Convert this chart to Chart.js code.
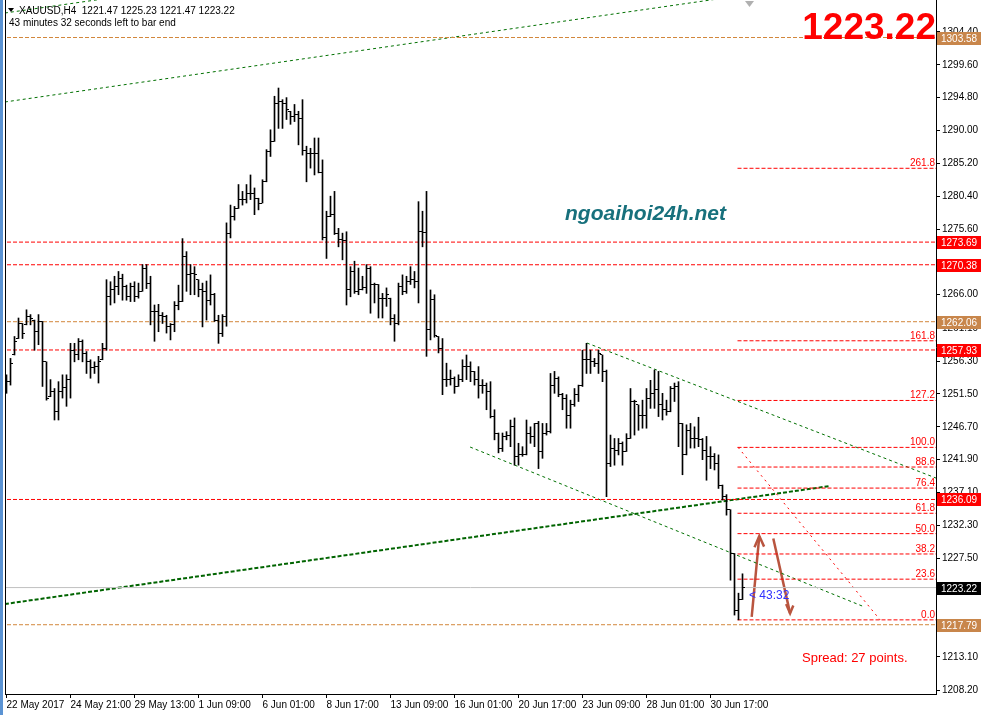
<!DOCTYPE html>
<html>
<head>
<meta charset="utf-8">
<script src="https://cdn.jsdelivr.net/npm/chart.js@4.4.0/dist/chart.umd.min.js"></script>
<style>
  html, body { margin: 0; padding: 0; background: #fff; }
  #wrap { position: relative; width: 984px; height: 715px; overflow: hidden; }
  #wrap canvas { position: absolute; left: 0; top: 0; }
  #edge { position: absolute; left: 0; top: 0; width: 3px; height: 715px; background: #5b93d3; }
</style>
</head>
<body>
<div id="wrap"><canvas id="c" width="984" height="715"></canvas><div id="edge"></div></div>
<script>
// XAUUSD H4 bars, 22 May 2017 -> 3 Jul 2017
var opens = [
  1252.0,1253.3,1257.2,1259.6,1261.8,1261.6,1262.8,1262.3,1260.6,1262.1,1256.2,1251.1,1251.9,1248.9,1251.9,1252.4,
  1253.6,1257.9,1257.2,1259.2,1257.4,1256.2,1255.3,1255.5,1256.5,1258.2,1265.7,1266.7,1267.2,1268.4,1267.2,1265.7,
  1267.2,1265.7,1266.5,1269.9,1267.7,1263.5,1263.5,1263.0,1262.8,1261.3,1261.6,1264.5,1265.0,1271.6,1268.9,1269.1,
  1268.2,1266.7,1266.5,1265.2,1266.0,1262.3,1260.4,1262.8,1275.0,1277.4,1278.6,1279.9,1279.9,1280.8,1280.8,1280.1,
  1279.4,1282.6,1286.9,1288.4,1294.0,1294.2,1294.0,1292.8,1292.0,1292.3,1291.8,1287.0,1286.7,1286.7,1286.7,1283.8,
  1274.3,1277.4,1277.7,1275.0,1274.0,1273.9,1266.7,1269.4,1266.5,1266.7,1267.1,1269.9,1267.5,1267.5,1265.5,1265.5,
  1265.5,1262.6,1261.8,1267.2,1266.5,1267.9,1268.2,1267.9,1275.2,1275.1,1260.9,1265.3,1259.9,1258.2,1253.6,1253.6,
  1253.8,1252.6,1253.6,1255.5,1255.5,1254.8,1253.6,1252.8,1252.7,1251.9,1248.2,1245.8,1243.6,1245.3,1245.5,1246.7,
  1242.4,1242.6,1242.6,1245.8,1245.3,1247.2,1243.1,1245.8,1246.0,1252.8,1253.8,1251.4,1250.9,1248.4,1249.9,1251.4,
  1252.8,1256.5,1256.5,1256.2,1256.0,1257.2,1254.8,1241.4,1243.6,1243.3,1244.3,1243.1,1245.0,1250.4,1249.9,1248.4,
  1248.4,1250.9,1251.6,1252.1,1249.9,1249.2,1248.9,1252.3,1252.6,1247.2,1242.6,1246.2,1245.0,1245.0,1244.8,1243.3,
  1242.3,1242.3,1241.4,1238.2,1236.5,1234.6,1228.2,1219.9,1221.47
];
var highs = [
  1254.3,1256.7,1259.9,1262.6,1261.8,1263.8,1263.1,1262.3,1263.1,1262.1,1256.2,1253.6,1252.3,1253.3,1254.3,1254.3,
  1258.9,1258.9,1259.6,1259.4,1257.7,1256.5,1256.2,1257.0,1258.9,1268.2,1267.9,1268.7,1269.4,1269.0,1267.4,1267.7,
  1267.9,1267.7,1270.4,1270.4,1268.7,1264.5,1264.6,1263.4,1263.0,1261.8,1265.0,1267.4,1274.2,1272.3,1270.4,1270.1,
  1268.2,1267.7,1268.0,1268.9,1266.2,1263.0,1263.1,1276.5,1279.1,1278.9,1282.1,1281.1,1282.1,1283.5,1281.6,1280.1,
  1282.8,1287.2,1290.1,1295.0,1296.2,1294.5,1294.8,1292.8,1293.8,1292.8,1294.5,1287.7,1287.4,1288.9,1288.9,1285.7,
  1278.2,1280.4,1281.1,1275.7,1275.0,1275.2,1270.1,1270.9,1269.9,1268.7,1270.4,1270.1,1267.7,1267.5,1266.2,1267.0,
  1265.5,1263.1,1267.7,1268.9,1268.7,1270.1,1269.4,1279.6,1278.2,1281.1,1266.7,1266.0,1259.9,1259.6,1256.0,1255.0,
  1254.0,1254.3,1256.5,1257.2,1256.2,1254.8,1255.5,1253.6,1253.1,1253.3,1249.2,1245.8,1245.8,1246.0,1247.7,1248.0,
  1244.3,1243.8,1247.7,1246.7,1247.2,1247.5,1247.2,1247.2,1254.5,1254.8,1254.0,1251.6,1251.4,1250.6,1252.3,1252.8,
  1257.9,1258.9,1257.9,1256.7,1257.9,1257.2,1255.0,1245.5,1245.0,1245.0,1244.5,1245.7,1252.3,1250.6,1249.9,1250.6,
  1252.3,1253.5,1255.0,1254.8,1251.6,1250.6,1252.6,1253.1,1253.3,1247.2,1247.0,1247.2,1246.7,1248.1,1245.0,1245.3,
  1243.8,1242.8,1242.6,1238.2,1236.8,1234.6,1228.2,1222.4,1225.23
];
var lows = [
  1251.6,1252.8,1257.2,1259.6,1259.6,1261.6,1261.6,1257.9,1258.7,1252.6,1250.6,1251.1,1247.7,1247.7,1250.9,1249.7,
  1250.9,1256.2,1256.5,1256.2,1254.5,1253.8,1254.5,1253.1,1256.5,1257.9,1264.5,1264.8,1266.0,1265.2,1265.2,1265.0,
  1265.0,1265.5,1266.5,1266.9,1261.6,1259.2,1260.6,1261.8,1260.4,1259.4,1260.6,1263.8,1265.0,1266.5,1266.0,1266.0,
  1265.7,1261.3,1262.3,1264.5,1262.1,1258.9,1259.9,1261.4,1274.3,1276.9,1278.6,1279.1,1279.4,1279.9,1277.7,1278.4,
  1279.4,1282.5,1286.2,1288.4,1290.3,1290.3,1291.6,1290.9,1291.3,1287.9,1286.4,1282.5,1284.5,1283.5,1283.8,1274.0,
  1271.3,1277.4,1274.8,1273.0,1271.1,1264.5,1265.7,1266.2,1266.0,1266.7,1266.2,1263.3,1264.8,1262.6,1262.6,1264.3,
  1261.6,1259.2,1261.6,1266.0,1266.2,1267.5,1267.0,1264.8,1273.0,1257.0,1259.4,1259.8,1257.5,1251.4,1252.6,1252.8,
  1251.6,1252.6,1253.3,1253.6,1253.3,1252.8,1250.9,1251.6,1249.2,1248.0,1244.8,1242.9,1243.1,1244.8,1243.8,1241.1,
  1241.1,1242.4,1242.6,1244.3,1243.8,1240.6,1242.1,1245.5,1245.8,1251.6,1251.1,1249.2,1246.5,1246.5,1249.7,1250.4,
  1252.6,1254.5,1254.5,1255.5,1254.5,1253.3,1236.5,1240.9,1241.1,1242.6,1241.1,1243.1,1245.0,1245.5,1246.2,1246.5,
  1246.5,1249.4,1249.4,1248.2,1247.7,1248.4,1248.9,1250.4,1243.8,1239.7,1242.6,1243.6,1243.6,1243.8,1241.9,1238.9,
  1240.6,1240.4,1237.7,1236.0,1233.8,1224.3,1219.2,1218.5,1221.47
];
var closes = [
  1253.3,1256.0,1259.2,1261.8,1260.4,1262.8,1262.6,1260.6,1262.1,1256.2,1250.9,1251.9,1248.9,1251.9,1252.4,1253.6,
  1257.9,1257.2,1259.2,1257.4,1256.2,1255.3,1255.5,1256.2,1258.2,1265.7,1266.7,1267.2,1268.4,1267.2,1265.7,1267.2,
  1265.7,1266.5,1269.9,1267.7,1263.5,1263.5,1263.0,1262.8,1261.3,1261.6,1264.5,1265.0,1271.6,1268.9,1269.1,1268.9,
  1266.7,1266.5,1265.2,1266.0,1262.3,1260.4,1262.8,1275.0,1277.4,1278.6,1279.9,1279.9,1280.8,1280.8,1280.1,1279.4,
  1282.6,1286.9,1288.4,1294.0,1294.2,1294.0,1293.0,1292.0,1292.3,1291.8,1287.0,1286.7,1286.7,1286.7,1283.8,1274.3,
  1277.4,1277.7,1275.0,1274.0,1273.9,1266.7,1269.4,1266.5,1266.7,1267.1,1269.9,1267.5,1267.5,1265.5,1265.5,1266.0,
  1262.6,1261.8,1267.2,1266.5,1267.9,1268.2,1267.9,1275.2,1275.1,1260.9,1265.3,1260.0,1258.2,1253.6,1253.6,1253.8,
  1252.6,1253.6,1255.5,1255.5,1254.8,1253.6,1252.8,1252.7,1251.9,1248.2,1245.8,1243.6,1245.3,1245.5,1246.7,1242.4,
  1242.6,1242.6,1245.8,1245.3,1247.2,1243.1,1245.8,1246.0,1252.8,1253.8,1251.4,1250.9,1248.4,1249.9,1251.4,1252.8,
  1256.5,1256.5,1256.2,1256.0,1257.4,1254.8,1241.4,1243.6,1243.3,1244.3,1243.1,1245.0,1250.4,1250.4,1248.4,1248.4,
  1250.9,1251.6,1252.1,1249.9,1249.2,1248.9,1252.3,1252.6,1247.2,1242.6,1246.2,1245.0,1245.0,1244.8,1243.3,1242.3,
  1242.3,1241.4,1238.2,1236.5,1234.6,1228.2,1219.9,1221.47,1223.22
];

// time axis: one label every 16 bars
var timeLabels = ['22 May 2017', '24 May 21:00', '29 May 13:00', '1 Jun 09:00', '6 Jun 01:00', '8 Jun 17:00',
                  '13 Jun 09:00', '16 Jun 01:00', '20 Jun 17:00', '23 Jun 09:00', '28 Jun 01:00', '30 Jun 17:00'];
var labelStep = 16;

// price axis tick labels
var yTicks = [1304.40, 1299.60, 1294.80, 1290.00, 1285.20, 1280.40, 1275.60, 1266.00, 1261.10, 1256.30,
              1251.50, 1246.70, 1241.90, 1237.10, 1232.30, 1227.50, 1222.70, 1213.10, 1208.20];

// horizontal levels
var redLevels = [1273.69, 1270.38, 1257.93, 1236.09];
var orangeLevels = [1303.58, 1262.06, 1217.79];
var bidPrice = 1223.22;

// trend lines [barIndex, price] pairs
var trendThin = [
  [[-0.4, 1294.16], [180, 1309.4]],
  [[-0.4, 1307.16], [30, 1309.7]],
  [[145.1, 1258.95], [236, 1238.4]],
  [[115.9, 1243.75], [213.9, 1220.53]]
];
var trendThick = [[-0.4, 1220.82], [205.9, 1238.06]];

// fibonacci retracement
var fibFrom = [182.9, 1243.70];
var fibTo = [218.4, 1218.50];
var fibRatios = [0, 23.6, 38.2, 50.0, 61.8, 76.4, 88.6, 100.0, 127.2, 161.8, 261.8];
var fibStartBar = 182.75;

// hand-drawn arrows
var arrows = [
  {shaft: [[186.3, 1218.95], [188.2, 1230.75]], head: [[187.0, 1229.1], [188.2, 1230.75], [189.4, 1229.2]]},
  {shaft: [[191.7, 1230.4], [195.9, 1219.45]], head: [[194.9, 1220.8], [195.9, 1219.45], [196.7, 1220.6]]}
];

var xMin = -0.375, xMax = 232.375;
var yMin = 1207.67, yMax = 1309.06;

function tickImage(side) {
  var c = document.createElement('canvas');
  c.width = 5; c.height = 1;
  var g = c.getContext('2d');
  g.fillStyle = '#000';
  g.fillRect(side < 0 ? 0 : 3, 0, 2, 1);
  return c;
}

function seg(pts, color, width, dash) {
  return {
    type: 'line',
    data: pts.map(function(p) { return {x: p[0], y: p[1]}; }),
    borderColor: color, borderWidth: width, borderDash: dash || [],
    pointRadius: 0, fill: false, tension: 0, clip: 0, order: 10
  };
}

var datasets = [];
datasets.push({
  type: 'bar',
  data: lows.map(function(l, i) { return {x: i, y: [l, highs[i]]}; }),
  backgroundColor: '#000', borderWidth: 0, barThickness: 1, grouped: false, order: 1
});
datasets.push({
  type: 'scatter',
  data: opens.map(function(v, i) { return {x: i, y: v}; }),
  pointStyle: tickImage(-1), pointRadius: 1, order: 0
});
datasets.push({
  type: 'scatter',
  data: closes.map(function(v, i) { return {x: i, y: v}; }),
  pointStyle: tickImage(1), pointRadius: 1, order: 0
});

redLevels.forEach(function(v) { datasets.push(seg([[xMin - 1, v], [xMax + 1, v]], '#ff0000', 1, [4, 2])); });
orangeLevels.forEach(function(v) { datasets.push(seg([[xMin - 1, v], [xMax + 1, v]], '#d2873c', 1, [4, 2])); });
datasets.push(seg([[xMin - 1, bidPrice], [xMax + 1, bidPrice]], '#c0c0c0', 1));

var fibRange = fibFrom[1] - fibTo[1];
fibRatios.forEach(function(r) {
  var v = fibTo[1] + fibRange * r / 100;
  datasets.push(seg([[fibStartBar, v], [xMax + 1, v]], '#ff0000', 1, [4, 2]));
});
datasets.push(seg([fibFrom, fibTo], '#ff0000', 1, [2, 4]));

trendThin.forEach(function(t) { datasets.push(seg(t, '#007000', 1, [3, 3])); });
datasets.push(seg(trendThick, '#006400', 2, [4, 2]));

arrows.forEach(function(a) {
  datasets.push(seg(a.shaft, '#b9553f', 2.5));
  datasets.push(seg(a.head, '#b9553f', 2.5));
});

var overlay = {
  id: 'overlay',
  beforeDatasetsDraw: function(chart) { chart.ctx.imageSmoothingEnabled = false; },
  afterDraw: function(chart) {
    var ctx = chart.ctx, ys = chart.scales.y, area = chart.chartArea;
    ctx.save();
    ctx.imageSmoothingEnabled = true;
    // left frame line
    ctx.fillStyle = '#000';
    ctx.fillRect(5, 0, 1, area.bottom);

    // fib labels
    ctx.font = '10px "Liberation Sans", Arial, sans-serif';
    ctx.fillStyle = '#ff0000';
    ctx.textAlign = 'right';
    ctx.textBaseline = 'alphabetic';
    fibRatios.forEach(function(r) {
      var v = fibTo[1] + fibRange * r / 100;
      ctx.fillText(r.toFixed(1), 935, ys.getPixelForValue(v) - 2);
    });

    // price boxes on the axis
    function box(v, bg) {
      var y = Math.round(ys.getPixelForValue(v));
      ctx.fillStyle = bg;
      ctx.fillRect(937, y - 6, 44, 13);
      ctx.fillStyle = '#fff';
      ctx.textAlign = 'left';
      ctx.textBaseline = 'middle';
      ctx.fillText(v.toFixed(2), 941, y + 1);
    }
    redLevels.forEach(function(v) { box(v, '#ff0000'); });
    orangeLevels.forEach(function(v) { box(v, '#c8864b'); });
    box(bidPrice, '#000');

    // header
    ctx.fillStyle = '#000';
    ctx.beginPath();
    ctx.moveTo(8, 8); ctx.lineTo(14, 8); ctx.lineTo(11, 12); ctx.closePath(); ctx.fill();
    ctx.textAlign = 'left';
    ctx.textBaseline = 'alphabetic';
    ctx.font = '10px "Liberation Sans", Arial, sans-serif';
    ctx.fillText('XAUUSD,H4  1221.47 1225.23 1221.47 1223.22', 19, 14);
    ctx.fillText('43 minutes 32 seconds left to bar end', 9, 26);

    // chart-shift marker
    ctx.fillStyle = '#b0b0b0';
    ctx.beginPath();
    ctx.moveTo(745, 1); ctx.lineTo(754, 1); ctx.lineTo(749.5, 7); ctx.closePath(); ctx.fill();

    // big price
    ctx.fillStyle = '#ff0000';
    ctx.textAlign = 'right';
    ctx.font = 'bold 37px "Liberation Sans", Arial, sans-serif';
    ctx.fillText(bidPrice.toFixed(2), 936, 39);

    // watermark
    ctx.textAlign = 'left';
    ctx.fillStyle = '#17707c';
    ctx.font = 'italic bold 21px "Liberation Sans", Arial, sans-serif';
    ctx.fillText('ngoaihoi24h.net', 565, 220);

    // timer and spread
    ctx.fillStyle = '#2f2fff';
    ctx.font = '12px "Liberation Sans", Arial, sans-serif';
    ctx.fillText('< 43:32', 749, 599);
    ctx.fillStyle = '#ff0000';
    ctx.font = '13px "Liberation Sans", Arial, sans-serif';
    ctx.fillText('Spread: 27 points.', 802, 662);
    ctx.restore();
  }
};

new Chart(document.getElementById('c'), {
  type: 'bar',
  data: {datasets: datasets},
  options: {
    responsive: false,
    animation: false,
    devicePixelRatio: 1,
    events: [],
    layout: {padding: {left: 5, top: 0, right: 0, bottom: 0}, autoPadding: false},
    plugins: {legend: {display: false}, tooltip: {enabled: false}},
    scales: {
      x: {
        type: 'linear', position: 'bottom', min: xMin, max: xMax, offset: false,
        grid: {drawOnChartArea: false, drawTicks: true, tickLength: 4, color: '#000', offset: false},
        border: {display: true, color: '#000'},
        ticks: {
          align: 'start', maxRotation: 0, autoSkip: false, padding: 1, color: '#000',
          font: {size: 10, family: '"Liberation Sans", Arial, sans-serif'},
          callback: function(v) { return timeLabels[Math.round(v / labelStep)] || ''; }
        },
        afterBuildTicks: function(s) {
          s.ticks = timeLabels.map(function(t, k) { return {value: k * labelStep}; });
        },
        afterFit: function(s) { s.height = 21; s.paddingLeft = 0; s.paddingRight = 0; }
      },
      y: {
        type: 'linear', position: 'right', min: yMin, max: yMax,
        grid: {drawOnChartArea: false, drawTicks: true, tickLength: 4, color: '#000'},
        border: {display: true, color: '#000'},
        ticks: {
          padding: 2, color: '#000', autoSkip: false,
          font: {size: 10, family: '"Liberation Sans", Arial, sans-serif'},
          callback: function(v) { return v.toFixed(2); }
        },
        afterBuildTicks: function(s) {
          s.ticks = yTicks.map(function(v) { return {value: v}; });
        },
        afterFit: function(s) { s.width = 48; s.paddingTop = 0; s.paddingBottom = 0; }
      }
    }
  },
  plugins: [overlay]
});
</script>
</body>
</html>
